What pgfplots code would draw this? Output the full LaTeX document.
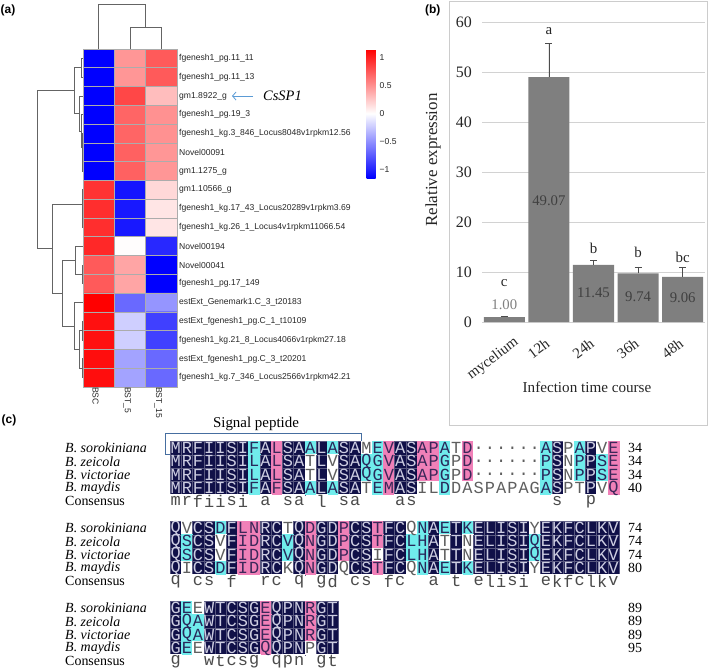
\documentclass[border=0pt]{standalone}
\usepackage{pgfplots}
\pgfplotsset{compat=1.18}
\usepackage{pgfplotstable}
\usepackage{fontspec}
\setmainfont{Liberation Serif}
\setsansfont{Liberation Sans}
\setmonofont{Liberation Mono}
\usetikzlibrary{arrows.meta}
\definecolor{alnnavy}{RGB}{16,16,72}
\definecolor{alncyan}{RGB}{112,236,236}
\definecolor{alnpink}{RGB}{240,128,184}
\definecolor{txt0}{RGB}{205,205,225}
\definecolor{txt1}{RGB}{40,40,90}
\definecolor{txt2}{RGB}{60,40,90}
\definecolor{txt3}{RGB}{95,95,95}
\definecolor{txt4}{RGB}{75,75,75}
\definecolor{dendro}{RGB}{100,100,100}
\definecolor{bargray}{RGB}{127,127,127}
\definecolor{arrowblue}{RGB}{91,155,213}
\definecolor{boxblue}{RGB}{70,110,160}
\newcommand\fs[1]{\fontsize{#1}{#1}\selectfont}
\pgfplotsset{dend/.style={draw=dendro, line width=0.9bp, mark=none}}
\tikzset{nm/.style={anchor=west, inner sep=0pt, font=\itshape\fs{14}},
  cs/.style={anchor=west, inner sep=0pt, font=\fs{14}},
  nb/.style={anchor=west, inner sep=0pt, font=\fs{14}}}

\pgfplotstableread{
x y c
0 0 -1.16
1 0 0.48
2 0 0.75
0 1 -1.16
1 1 0.48
2 1 0.75
0 2 -1.16
1 2 0.84
2 2 0.30
0 3 -1.16
1 3 0.70
2 3 0.50
0 4 -1.16
1 4 0.70
2 4 0.50
0 5 -1.16
1 5 0.72
2 5 0.48
0 6 -1.16
1 6 0.72
2 6 0.48
0 7 0.93
1 7 -1.07
2 7 0.18
0 8 0.95
1 8 -1.05
2 8 0.12
0 9 0.95
1 9 -1.05
2 9 0.12
0 10 0.98
1 10 0.01
2 10 -0.98
0 11 0.75
1 11 0.41
2 11 -1.16
0 12 0.75
1 12 0.41
2 12 -1.16
0 13 1.16
1 13 -0.68
2 13 -0.48
0 14 1.09
1 14 -0.22
2 14 -0.87
0 15 1.09
1 15 -0.22
2 15 -0.87
0 16 1.10
1 16 -0.42
2 16 -0.68
0 17 1.10
1 17 -0.42
2 17 -0.68
}\heatdata

% t: 0 navy, 1 cyan, 2 pink, 3 white, 4 consensus
\pgfplotstableread[row sep=\\]{
x y t l\\
1 1 0 M\\2 1 0 R\\3 1 0 F\\4 1 0 I\\5 1 0 I\\6 1 0 S\\7 1 0 I\\8 1 1 F\\9 1 0 A\\10 1 2 L\\
11 1 0 S\\12 1 0 A\\13 1 1 A\\14 1 0 L\\15 1 1 A\\16 1 0 S\\17 1 0 A\\18 1 3 M\\19 1 1 E\\20 1 2 V\\
21 1 0 A\\22 1 0 S\\23 1 2 A\\24 1 2 P\\25 1 1 A\\26 1 3 T\\27 1 2 D\\28 1 3 .\\29 1 3 .\\30 1 3 .\\
31 1 3 .\\32 1 3 .\\33 1 3 .\\34 1 1 A\\35 1 0 S\\36 1 3 P\\37 1 1 A\\38 1 0 P\\39 1 3 V\\40 1 2 E\\
1 2 0 M\\2 2 0 R\\3 2 0 F\\4 2 0 I\\5 2 0 I\\6 2 0 S\\7 2 0 I\\8 2 1 L\\9 2 0 A\\10 2 2 L\\
11 2 0 S\\12 2 0 A\\13 2 3 T\\14 2 0 L\\15 2 3 V\\16 2 0 S\\17 2 0 A\\18 2 1 Q\\19 2 1 G\\20 2 2 V\\
21 2 0 A\\22 2 0 S\\23 2 2 A\\24 2 2 P\\25 2 1 G\\26 2 3 P\\27 2 2 D\\28 2 3 .\\29 2 3 .\\30 2 3 .\\
31 2 3 .\\32 2 3 .\\33 2 3 .\\34 2 1 P\\35 2 0 S\\36 2 3 N\\37 2 1 P\\38 2 0 P\\39 2 1 S\\40 2 2 E\\
1 3 0 M\\2 3 0 R\\3 3 0 F\\4 3 0 I\\5 3 0 I\\6 3 0 S\\7 3 0 I\\8 3 1 L\\9 3 0 A\\10 3 2 L\\
11 3 0 S\\12 3 0 A\\13 3 3 T\\14 3 0 L\\15 3 3 V\\16 3 0 S\\17 3 0 A\\18 3 1 Q\\19 3 1 G\\20 3 2 V\\
21 3 0 A\\22 3 0 S\\23 3 2 A\\24 3 2 P\\25 3 1 G\\26 3 3 P\\27 3 2 D\\28 3 3 .\\29 3 3 .\\30 3 3 .\\
31 3 3 .\\32 3 3 .\\33 3 3 .\\34 3 1 P\\35 3 0 S\\36 3 3 N\\37 3 1 P\\38 3 0 P\\39 3 1 S\\40 3 2 E\\
1 4 0 M\\2 4 0 R\\3 4 0 F\\4 4 0 I\\5 4 0 I\\6 4 0 S\\7 4 0 I\\8 4 1 F\\9 4 0 A\\10 4 2 F\\
11 4 0 S\\12 4 0 A\\13 4 1 A\\14 4 0 L\\15 4 1 A\\16 4 0 S\\17 4 0 A\\18 4 3 T\\19 4 1 E\\20 4 2 M\\
21 4 0 A\\22 4 0 S\\23 4 3 I\\24 4 3 L\\25 4 1 D\\26 4 3 D\\27 4 3 A\\28 4 3 S\\29 4 3 P\\30 4 3 A\\
31 4 3 P\\32 4 3 A\\33 4 3 G\\34 4 1 A\\35 4 0 S\\36 4 3 P\\37 4 3 T\\38 4 0 P\\39 4 3 V\\40 4 2 Q\\
1 5 4 m\\2 5 4 r\\3 5 4 f\\4 5 4 i\\5 5 4 i\\6 5 4 s\\7 5 4 i\\9 5 4 a\\11 5 4 s\\12 5 4 a\\14 5 4 l\\16 5 4 s\\17 5 4 a\\21 5 4 a\\22 5 4 s\\35 5 4 s\\38 5 4 p\\
1 7 0 Q\\2 7 3 V\\3 7 0 C\\4 7 0 S\\5 7 1 D\\6 7 0 F\\7 7 2 L\\8 7 2 N\\9 7 0 R\\10 7 0 C\\
11 7 3 T\\12 7 0 Q\\13 7 2 D\\14 7 0 G\\15 7 0 D\\16 7 2 P\\17 7 0 C\\18 7 0 S\\19 7 2 T\\20 7 0 F\\
21 7 0 C\\22 7 3 Q\\23 7 1 N\\24 7 0 A\\25 7 1 E\\26 7 0 T\\27 7 1 K\\28 7 0 E\\29 7 0 L\\30 7 0 I\\
31 7 0 S\\32 7 0 I\\33 7 3 Y\\34 7 0 E\\35 7 0 K\\36 7 0 F\\37 7 0 C\\38 7 0 L\\39 7 0 K\\40 7 0 V\\
1 8 0 Q\\2 8 1 S\\3 8 0 C\\4 8 0 S\\5 8 3 V\\6 8 0 F\\7 8 2 I\\8 8 2 D\\9 8 0 R\\10 8 0 C\\
11 8 1 V\\12 8 0 Q\\13 8 2 N\\14 8 0 G\\15 8 0 D\\16 8 2 P\\17 8 0 C\\18 8 0 S\\19 8 2 T\\20 8 0 F\\
21 8 0 C\\22 8 1 L\\23 8 1 H\\24 8 0 A\\25 8 3 T\\26 8 0 T\\27 8 3 N\\28 8 0 E\\29 8 0 L\\30 8 0 I\\
31 8 0 S\\32 8 0 I\\33 8 1 Q\\34 8 0 E\\35 8 0 K\\36 8 0 F\\37 8 0 C\\38 8 0 L\\39 8 0 K\\40 8 0 V\\
1 9 0 Q\\2 9 1 S\\3 9 0 C\\4 9 0 S\\5 9 3 V\\6 9 0 F\\7 9 2 I\\8 9 2 D\\9 9 0 R\\10 9 0 C\\
11 9 1 V\\12 9 0 Q\\13 9 2 N\\14 9 0 G\\15 9 0 D\\16 9 2 P\\17 9 0 C\\18 9 0 S\\19 9 3 I\\20 9 0 F\\
21 9 0 C\\22 9 1 L\\23 9 1 H\\24 9 0 A\\25 9 3 T\\26 9 0 T\\27 9 3 N\\28 9 0 E\\29 9 0 L\\30 9 0 I\\
31 9 0 S\\32 9 0 I\\33 9 1 Q\\34 9 0 E\\35 9 0 K\\36 9 0 F\\37 9 0 C\\38 9 0 L\\39 9 0 K\\40 9 0 V\\
1 10 0 Q\\2 10 3 I\\3 10 0 C\\4 10 0 S\\5 10 1 D\\6 10 0 F\\7 10 2 I\\8 10 2 D\\9 10 0 R\\10 10 0 C\\
11 10 3 K\\12 10 0 Q\\13 10 2 N\\14 10 0 G\\15 10 0 D\\16 10 3 Q\\17 10 0 C\\18 10 0 S\\19 10 2 T\\20 10 0 F\\
21 10 0 C\\22 10 3 Q\\23 10 1 N\\24 10 0 A\\25 10 1 E\\26 10 0 T\\27 10 1 K\\28 10 0 E\\29 10 0 L\\30 10 0 I\\
31 10 0 S\\32 10 0 I\\33 10 3 Y\\34 10 0 E\\35 10 0 K\\36 10 0 F\\37 10 0 C\\38 10 0 L\\39 10 0 K\\40 10 0 V\\
1 11 4 q\\3 11 4 c\\4 11 4 s\\6 11 4 f\\9 11 4 r\\10 11 4 c\\12 11 4 q\\14 11 4 g\\15 11 4 d\\17 11 4 c\\18 11 4 s\\20 11 4 f\\21 11 4 c\\24 11 4 a\\26 11 4 t\\28 11 4 e\\29 11 4 l\\30 11 4 i\\31 11 4 s\\32 11 4 i\\34 11 4 e\\35 11 4 k\\36 11 4 f\\37 11 4 c\\38 11 4 l\\39 11 4 k\\40 11 4 v\\
1 13 0 G\\2 13 1 E\\3 13 3 E\\4 13 0 W\\5 13 0 T\\6 13 0 C\\7 13 0 S\\8 13 0 G\\9 13 2 E\\10 13 0 Q\\11 13 0 P\\12 13 0 N\\13 13 2 R\\14 13 0 G\\15 13 0 T\\
1 14 0 G\\2 14 1 Q\\3 14 1 A\\4 14 0 W\\5 14 0 T\\6 14 0 C\\7 14 0 S\\8 14 0 G\\9 14 2 E\\10 14 0 Q\\11 14 0 P\\12 14 0 N\\13 14 2 R\\14 14 0 G\\15 14 0 T\\
1 15 0 G\\2 15 1 Q\\3 15 1 A\\4 15 0 W\\5 15 0 T\\6 15 0 C\\7 15 0 S\\8 15 0 G\\9 15 2 E\\10 15 0 Q\\11 15 0 P\\12 15 0 N\\13 15 2 R\\14 15 0 G\\15 15 0 T\\
1 16 0 G\\2 16 1 E\\3 16 3 E\\4 16 0 W\\5 16 0 T\\6 16 0 C\\7 16 0 S\\8 16 0 G\\9 16 2 Q\\10 16 0 Q\\11 16 0 P\\12 16 0 N\\13 16 3 P\\14 16 0 G\\15 16 0 T\\
1 17 4 g\\4 17 4 w\\5 17 4 t\\6 17 4 c\\7 17 4 s\\8 17 4 g\\10 17 4 q\\11 17 4 p\\12 17 4 n\\14 17 4 g\\15 17 4 t\\
}\alndata

\begin{document}
\begin{tikzpicture}
% ---------- canvas (pixel coordinates) ----------
\begin{axis}[at={(0,0)}, anchor=north west, scale only axis, width=709bp, height=672bp,
  xmin=0, xmax=709, ymin=0, ymax=672, y dir=reverse, hide axis, clip=false]
% row dendrogram
\addplot[dend] coordinates {(83,58.4)(81,58.4)(81,77.2)(83,77.2)};
\addplot[dend] coordinates {(83,152.3)(82.5,152.3)(82.5,171.1)(83,171.1)};
\addplot[dend] coordinates {(83,133.5)(82,133.5)(82,161.7)(82.5,161.7)};
\addplot[dend] coordinates {(83,114.7)(81.5,114.7)(81.5,147.6)(82,147.6)};
\addplot[dend] coordinates {(83,96)(79,96)(79,131.2)(81.5,131.2)};
\addplot[dend] coordinates {(81,67.8)(74,67.8)(74,113.6)(79,113.6)};
\addplot[dend] coordinates {(83,208.7)(82.5,208.7)(82.5,227.4)(83,227.4)};
\addplot[dend] coordinates {(83,189.9)(82,189.9)(82,218.1)(82.5,218.1)};
\addplot[dend] coordinates {(83,265)(82.5,265)(82.5,283.8)(83,283.8)};
\addplot[dend] coordinates {(83,246.2)(75,246.2)(75,274.4)(82.5,274.4)};
\addplot[dend] coordinates {(83,321.4)(82.5,321.4)(82.5,340.2)(83,340.2)};
\addplot[dend] coordinates {(83,358.9)(82,358.9)(82,377.7)(83,377.7)};
\addplot[dend] coordinates {(82.5,330.8)(79,330.8)(79,368.3)(82,368.3)};
\addplot[dend] coordinates {(83,302.6)(74,302.6)(74,349.6)(79,349.6)};
\addplot[dend] coordinates {(75,260.3)(62,260.3)(62,326.1)(74,326.1)};
\addplot[dend] coordinates {(82,204)(52,204)(52,293.2)(62,293.2)};
\addplot[dend] coordinates {(74,90.7)(37,90.7)(37,248.6)(52,248.6)};
% column dendrogram
\addplot[dend] coordinates {(98.7,49)(98.7,4)(145.7,4)(145.7,27)};
\addplot[dend] coordinates {(130,49)(130,27)(161.3,27)(161.3,49)};
% frame of panel b
\draw[gray!40, line width=0.8bp] (449,1) rectangle (707,425);
% signal peptide box
\draw[boxblue, line width=1bp] (165,433) rectangle (361,454.5);
% arrow to CsSP1
\draw[arrowblue, line width=0.8bp, -{Straight Barb[length=3.5bp, width=8bp]}] (253,96) -- (232,96);
\node[font=\itshape\fs{14.5}, anchor=west, inner sep=0pt] at (263,96) {CsSP1};
% panel labels
\node[font=\sffamily\bfseries\fs{12}, anchor=west, inner sep=0pt] at (0.5,10) {(a)};
\node[font=\sffamily\bfseries\fs{12}, anchor=west, inner sep=0pt] at (425,10) {(b)};
\node[font=\sffamily\bfseries\fs{12}, anchor=west, inner sep=0pt] at (1.5,420) {(c)};
% panel b axis titles
\node[font=\fs{17}, rotate=90, text=black!85] at (433,160) {Relative expression};
\node[font=\fs{15.2}, text=black!85] at (587,387) {Infection time course};
% panel c title
\node[font=\fs{15}] at (256,424) {Signal peptide};
\end{axis}

% ---------- heatmap ----------
\begin{axis}[at={(83bp,-49bp)}, anchor=north west, scale only axis, width=94bp, height=338bp,
  xmin=-0.5, xmax=2.5, ymin=-0.5, ymax=17.5, y dir=reverse,
  xtick={0,1,2}, xticklabels={BSC,BST\_5,BST\_15},
  ytick={0,...,17},
  yticklabels={fgenesh1\_pg.11\_11, fgenesh1\_pg.11\_13, gm1.8922\_g, fgenesh1\_pg.19\_3,
    fgenesh1\_kg.3\_846\_Locus8048v1rpkm12.56, Novel00091, gm1.1275\_g, gm1.10566\_g,
    fgenesh1\_kg.17\_43\_Locus20289v1rpkm3.69, fgenesh1\_kg.26\_1\_Locus4v1rpkm11066.54,
    Novel00194, Novel00041, fgenesh1\_pg.17\_149, estExt\_Genemark1.C\_3\_t20183,
    estExt\_fgenesh1\_pg.C\_1\_t10109, fgenesh1\_kg.21\_8\_Locus4066v1rpkm27.18,
    estExt\_fgenesh1\_pg.C\_3\_t20201, fgenesh1\_kg.7\_346\_Locus2566v1rpkm42.21},
  yticklabel pos=right,
  major tick length=0, minor tick length=0,
  minor xtick={-0.5,0.5,1.5,2.5}, minor ytick={-0.5,0.5,...,17.5},
  grid=minor, minor grid style={draw=gray!65, line width=0.6bp},
  axis line style={draw=gray!65, line width=0.6bp},
  axis on top,
  colormap={bwr}{rgb255=(0,0,255) rgb255=(255,255,255) rgb255=(255,0,0)},
  point meta min=-1.16, point meta max=1.16,
  tick label style={font=\sffamily\fs{8.6}, text=black!85},
  xticklabel style={rotate=-90, anchor=west, inner sep=0pt, yshift=-3bp},
  yticklabel style={anchor=west, inner sep=0pt, xshift=2bp},
  colorbar,
  colorbar style={at={(parent axis.north east)}, anchor=north west, xshift=181bp,
    scale only axis, width=9bp, height=129bp,
    ytick={-1,-0.5,0,0.5,1}, yticklabels={−1,−0.5,0,0.5,1},
    yticklabel style={font=\sffamily\fs{8.6}, inner sep=0pt, xshift=4bp, text=black!85, anchor=west},
    major tick length=0, axis line style={draw=none}},
]
\addplot[matrix plot*, mesh/cols=3, point meta=explicit] table[x=x, y=y, meta=c]{\heatdata};
\end{axis}

% ---------- bar chart ----------
\begin{axis}[at={(482bp,-322bp)}, anchor=south west, scale only axis, width=223bp, height=299.3bp,
  xmin=-0.5, xmax=4.5, ymin=0, ymax=60,
  ytick={0,10,...,60}, xtick={1,2,3,4}, xticklabels={12h,24h,36h,48h},
  extra x ticks={0}, extra x tick labels={mycelium},
  extra x tick style={xticklabel style={xshift=11.6bp, yshift=-6.2bp}},
  ymajorgrids, grid style={draw=gray!35, line width=0.6bp},
  axis line style={draw=none}, major tick length=0,
  /pgf/number format/assume math mode=true,
  tick label style={text=black!85},
  yticklabel style={font=\fs{16}, inner sep=0pt, xshift=-10bp},
  xticklabel style={font=\fs{15}, xshift=-4.5bp, yshift=-15bp, rotate=37, anchor=north east, inner sep=0pt},
  clip=false]
\addplot[ybar, bar width=0.92, fill=bargray, draw=none,
  error bars/.cd, y dir=plus, y explicit,
  error bar style={line width=0.8bp, color=black!70},
  error mark options={rotate=90, mark size=3.5bp, line width=0.8bp, color=black!70}]
  table[x=x, y=y, y error=e]{
x y e
0 1.00 0.12
1 49.07 6.8
2 11.45 0.8
3 9.74 1.3
4 9.06 1.8
};
\node[font=\fs{15}, text=black!85] at (axis cs:0,7.8) {c};
\node[font=\fs{15}, text=black!85] at (axis cs:1,58.3) {a};
\node[font=\fs{15}, text=black!85] at (axis cs:2,14.8) {b};
\node[font=\fs{15}, text=black!85] at (axis cs:3,14.0) {b};
\node[font=\fs{15}, text=black!85] at (axis cs:4,13.0) {bc};
\node[font=\fs{14.8}, text=black!50] at (axis cs:0,3.4) {1.00};
\node[font=\fs{14.8}, text=black!75] at (axis cs:1,24.3) {49.07};
\node[font=\fs{14.8}, text=black!75] at (axis cs:2,5.8) {11.45};
\node[font=\fs{14.8}, text=black!75] at (axis cs:3,5.0) {9.74};
\node[font=\fs{14.8}, text=black!75] at (axis cs:4,4.8) {9.06};
\end{axis}

% ---------- alignment ----------
\begin{axis}[at={(170bp,-441.33bp)}, anchor=north west, scale only axis, width=449bp, height=226.67bp,
  xmin=0.5, xmax=40.5, ymin=0.5, ymax=17.5, y dir=reverse, hide axis, clip=false]
\addplot[scatter, only marks, mark=square*, mark size=5.61bp, mark options={yscale=1.188},
  scatter src=explicit symbolic,
  scatter/classes={0={fill=alnnavy, draw=alnnavy!70!white, line width=0.3bp},
    1={fill=alncyan, draw=alncyan}, 2={fill=alnpink, draw=alnpink},
    3={fill=white, draw=white}, 4={fill=white, draw=white}}]
  table[x=x, y=y, meta=t]{\alndata};
\addplot[only marks, mark=none, point meta=explicit symbolic,
  visualization depends on={\thisrow{t}\as\cls},
  nodes near coords={\pgfmathtruncatemacro\ci{\cls}\textcolor{txt\ci}{\pgfplotspointmeta}},
  every node near coord/.append style={anchor=center, inner sep=0pt, font=\ttfamily\fs{17}}]
  table[x=x, y=y, meta=l]{\alndata};
\node[nm] at (axis cs:-8.85,1) {B. sorokiniana};
\node[nm] at (axis cs:-8.85,2) {B. zeicola};
\node[nm] at (axis cs:-8.85,3) {B. victoriae};
\node[nm] at (axis cs:-8.85,4) {B. maydis};
\node[cs] at (axis cs:-8.85,5) {Consensus};
\node[nm] at (axis cs:-8.85,7) {B. sorokiniana};
\node[nm] at (axis cs:-8.85,8) {B. zeicola};
\node[nm] at (axis cs:-8.85,9) {B. victoriae};
\node[nm] at (axis cs:-8.85,10) {B. maydis};
\node[cs] at (axis cs:-8.85,11) {Consensus};
\node[nm] at (axis cs:-8.85,13) {B. sorokiniana};
\node[nm] at (axis cs:-8.85,14) {B. zeicola};
\node[nm] at (axis cs:-8.85,15) {B. victoriae};
\node[nm] at (axis cs:-8.85,16) {B. maydis};
\node[cs] at (axis cs:-8.85,17) {Consensus};
\node[nb] at (axis cs:41.3,1) {34};
\node[nb] at (axis cs:41.3,2) {34};
\node[nb] at (axis cs:41.3,3) {34};
\node[nb] at (axis cs:41.3,4) {40};
\node[nb] at (axis cs:41.3,7) {74};
\node[nb] at (axis cs:41.3,8) {74};
\node[nb] at (axis cs:41.3,9) {74};
\node[nb] at (axis cs:41.3,10) {80};
\node[nb] at (axis cs:41.3,13) {89};
\node[nb] at (axis cs:41.3,14) {89};
\node[nb] at (axis cs:41.3,15) {89};
\node[nb] at (axis cs:41.3,16) {95};
\end{axis}
\pgfresetboundingbox
\useasboundingbox (0,0) rectangle (709bp,-672bp);
\end{tikzpicture}
\end{document}
